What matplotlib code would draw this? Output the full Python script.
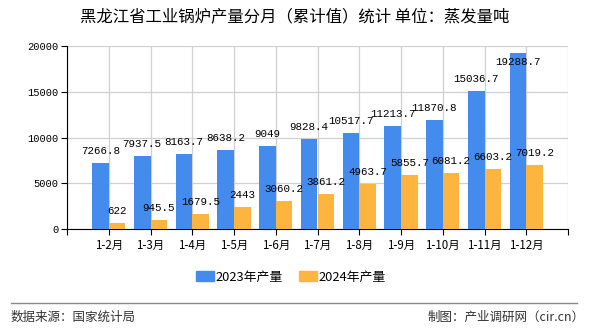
import numpy as np
import matplotlib
matplotlib.use('Agg')
import matplotlib.pyplot as plt
from matplotlib.patches import Patch

plt.rcParams['font.family'] = ['Noto Sans CJK SC', 'DejaVu Sans']

# 数据
months = ['1-2月', '1-3月', '1-4月', '1-5月', '1-6月', '1-7月', '1-8月',
          '1-9月', '1-10月', '1-11月', '1-12月']
prod_2023 = [7266.8, 7937.5, 8163.7, 8638.2, 9049, 9828.4, 10517.7,
             11213.7, 11870.8, 15036.7, 19288.7]
prod_2024 = [622, 945.5, 1679.5, 2443, 3060.2, 3861.2, 4963.7,
             5855.7, 6081.2, 6603.2, 7019.2]
labels_2023 = ['7266.8', '7937.5', '8163.7', '8638.2', '9049', '9828.4', '10517.7',
               '11213.7', '11870.8', '15036.7', '19288.7']
labels_2024 = ['622', '945.5', '1679.5', '2443', '3060.2', '3861.2', '4963.7',
               '5855.7', '6081.2', '6603.2', '7019.2']

blue = '#438CEE'
orange = '#FDB53F'
num_font = 'Liberation Mono'
ymax = 20000

fig = plt.figure(figsize=(5.9, 3.3), dpi=100)
ax = fig.add_axes([67 / 590, 1 - 229 / 330, (568 - 67) / 590, (229 - 46) / 330])

x = np.arange(len(months))
w = 0.4
ax.bar(x - w / 2, prod_2023, w, color=blue, zorder=3)
ax.bar(x + w / 2, prod_2024, w, color=orange, zorder=3)


def put_label(xp, v, text):
    # 标签超出顶部时放到绘图区内
    if v > ymax * 0.93:
        ax.annotate(text, (xp, ymax), xytext=(0, -11.5), textcoords='offset points',
                    ha='center', va='center', fontsize=7.8, family=num_font, zorder=4)
    else:
        ax.annotate(text, (xp, v), xytext=(0, 5), textcoords='offset points',
                    ha='center', va='bottom', fontsize=7.8, family=num_font, zorder=4)


for i in range(len(months)):
    put_label(x[i] - w / 2, prod_2023[i], labels_2023[i])
    put_label(x[i] + w / 2, prod_2024[i], labels_2024[i])

ax.set_xlim(-1, 11)
ax.set_ylim(0, ymax)
ax.set_yticks([0, 5000, 10000, 15000, 20000])
ax.set_yticklabels(['0', '5000', '10000', '15000', '20000'], family=num_font, fontsize=7.5)
ax.set_xticks(np.arange(-1, 12))
ax.set_xticklabels([''] + months + [''], fontsize=8.3)

ax.grid(True, color='#d0d0d0', linewidth=0.9, zorder=0)
for s in ['top', 'right']:
    ax.spines[s].set_visible(False)
ax.spines['left'].set_color('black')
ax.spines['bottom'].set_color('black')
ax.tick_params(axis='both', length=4, width=0.8, color='black', pad=2)
ax.tick_params(axis='x', pad=3)

fig.text(0.5, 1 - 17 / 330, '黑龙江省工业锅炉产量分月（累计值）统计 单位：蒸发量吨',
         ha='center', va='center', fontsize=11.8)

handles = [Patch(color=blue, label='2023年产量'), Patch(color=orange, label='2024年产量')]
fig.legend(handles=handles, loc='center', bbox_to_anchor=(291 / 590, 1 - 277 / 330),
           ncol=2, frameon=False, fontsize=9.3, handlelength=1.4, handleheight=0.7,
           handletextpad=0.1, columnspacing=1.3)

fig.add_artist(plt.Line2D([11 / 590, 577 / 590], [1 - 303 / 330, 1 - 303 / 330],
                          color='#888888', linewidth=1))
fig.text(11 / 590, 1 - 317 / 330, '数据来源：国家统计局', ha='left', va='center',
         fontsize=9, color='#333333')
fig.text(585 / 590, 1 - 317 / 330, '制图：产业调研网（cir.cn）', ha='right', va='center',
         fontsize=9, color='#333333')

fig.savefig('out.png', dpi=100)
